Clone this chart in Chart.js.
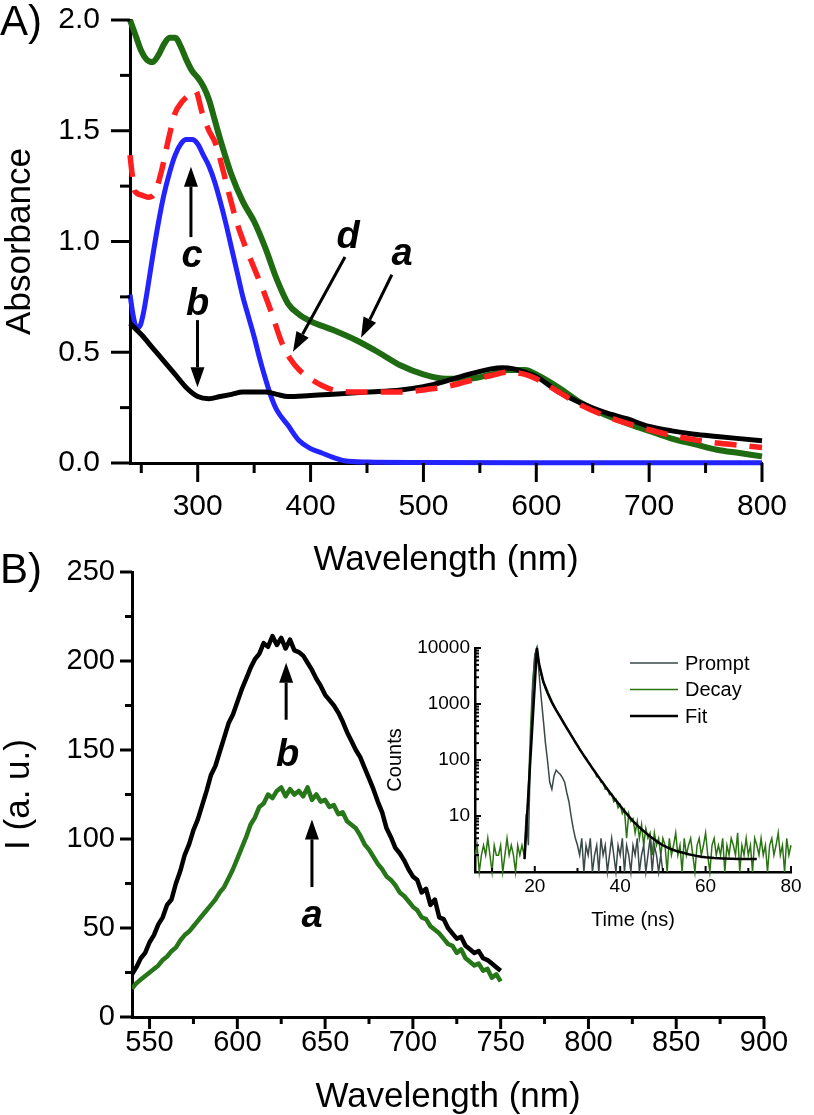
<html>
<head>
<script src="https://cdn.jsdelivr.net/npm/chart.js@4.4.3/dist/chart.umd.min.js"></script>
<style>
  body { margin: 0; background: #fff; }
  #page { position: relative; width: 814px; height: 1115px; overflow: hidden; font-family: "Liberation Sans", Arial, sans-serif; }
  canvas, .tag { position: absolute; }
  .tag { left: 0; font-size: 42px; line-height: 1; color: #000; }
</style>
</head>
<body>
<div id="page">
  <canvas id="chartA" width="814" height="590" style="left:0;top:0"></canvas>
  <canvas id="chartB" width="814" height="575" style="left:0;top:540px"></canvas>
  <canvas id="inset" width="444" height="300" style="left:370px;top:630px"></canvas>
  <div class="tag" style="top:0">A)</div>
  <div class="tag" style="top:548px">B)</div>
</div>
<script>
// ---- panel A: absorbance ----
wlA_a = [240,245,250,255,260,265,270,275,280,285,290,295,300,305,310,315,320,330,340,350,360,370,380,390,400,420,440,460,480,500,520,540,560,575,590,600,620,640,660,680,700,720,740,760,780,800];
absA_a = [2.0,1.93,1.86,1.82,1.81,1.84,1.89,1.92,1.92,1.88,1.82,1.77,1.74,1.70,1.64,1.55,1.46,1.30,1.18,1.09,0.97,0.83,0.72,0.67,0.64,0.60,0.555,0.50,0.44,0.40,0.38,0.38,0.40,0.42,0.42,0.40,0.34,0.27,0.22,0.18,0.145,0.11,0.085,0.06,0.045,0.03];
wlA_b = [240,250,260,270,280,290,300,310,320,330,340,350,360,370,380,400,420,450,480,500,520,540,560,570,580,590,600,620,640,660,680,700,720,740,760,780,800];
absA_b = [0.63,0.58,0.52,0.46,0.40,0.34,0.30,0.29,0.30,0.31,0.32,0.32,0.32,0.31,0.30,0.305,0.31,0.32,0.33,0.345,0.37,0.40,0.425,0.43,0.425,0.41,0.39,0.32,0.27,0.23,0.20,0.165,0.145,0.13,0.12,0.11,0.10];
wlA_c = [240,243,246,249,252,256,260,265,270,275,280,285,290,295,300,305,310,315,320,325,330,335,340,345,350,355,360,365,370,380,390,400,410,420,430,450,500,600,700,800];
absA_c = [0.76,0.66,0.61,0.62,0.68,0.80,0.93,1.08,1.21,1.31,1.39,1.44,1.46,1.46,1.44,1.39,1.34,1.27,1.18,1.08,0.97,0.86,0.75,0.66,0.57,0.47,0.38,0.30,0.24,0.17,0.10,0.065,0.045,0.025,0.01,0.004,0.002,0.001,0.001,0.001];
wlA_d = [240,242,244,250,256,262,268,274,280,286,292,298,304,310,316,322,328,335,342,350,358,366,374,382,390,400,410,420,440,460,480,500,520,540,560,575,590,600,620,640,660,680,700,720,740,760,780,800];
absA_d = [1.39,1.30,1.23,1.21,1.20,1.22,1.32,1.46,1.58,1.63,1.66,1.68,1.58,1.50,1.44,1.33,1.21,1.08,0.98,0.88,0.78,0.67,0.55,0.47,0.42,0.38,0.35,0.33,0.32,0.32,0.32,0.33,0.345,0.37,0.395,0.41,0.40,0.38,0.32,0.26,0.215,0.18,0.15,0.125,0.105,0.09,0.08,0.07];
xTicksA = [300,400,500,600,700,800];
yTicksA = [0,0.5,1.0,1.5,2.0];

// ---- panel B: emission ----
wlB = [540,542.5,545,547.5,550,552.5,555,557.5,560,562.5,565,567.5,570,572.5,575,577.5,580,582.5,585,587.5,590,592.5,595,597.5,600,602.5,605,607.5,610,612.5,615,617.5,620,622.5,625,627.5,630,632.5,635,637.5,640,642.5,645,647.5,650,652.5,655,657.5,660,662.5,665,667.5,670,672.5,675,677.5,680,682.5,685,687.5,690,692.5,695,697.5,700,702.5,705,707.5,710,712.5,715,717.5,720,722.5,725,727.5,730,732.5,735,737.5,740,742.5,745,747.5,750];
emB_a = [16,19,21,23,25,27,29,32,34,37,39,43,46,48,51,54,57,60,63,66,70,73,78,83,89,95,101,108,112,118,120,125,123,127,129,124,128,125,127,124,129,122,125,121,122,118,119,114,115,110,108,106,102,97,94,90,86,83,79,77,74,70,68,65,62,60,56,55,51,49,47,44,41,40,36,38,33,31,29,30,26,27,22,24,20];
emB_b = [24,28,33,36,42,46,52,56,63,66,75,82,91,97,105,111,119,127,136,141,149,157,165,170,177,184,190,196,201,204,210,208,214,209,213,207,212,206,205,203,199,195,190,186,181,178,175,171,166,160,155,150,146,140,134,128,121,115,106,101,95,92,88,83,79,77,70,72,63,66,56,55,50,47,44,45,40,38,36,37,33,32,30,28,26];
xTicksB = [550,600,650,700,750,800,850,900];
yTicksB = [0,50,100,150,200,250];

// ---- inset: decay ----
tDecay = [6,6.5,7,7.5,8,8.5,9,9.5,10,10.5,11,11.5,12,12.5,13,13.5,14,14.5,15,15.5,16,16.5,17,17.5,18,18.5,19,19.5,20,20.5,21,21.5,22,22.5,23,23.5,24,24.5,25,25.5,26,26.5,27,27.5,28,28.5,29,29.5,30,30.5,31,31.5,32,32.5,33,33.5,34,34.5,35,35.5,36,36.5,37,37.5,38,38.5,39,39.5,40,40.5,41,41.5,42,42.5,43,43.5,44,44.5,45,45.5,46,46.5,47,47.5,48,48.5,49,49.5,50,50.5,51,51.5,52,52.5,53,53.5,54,54.5,55,55.5,56,56.5,57,57.5,58,58.5,59,59.5,60,60.5,61,61.5,62,62.5,63,63.5,64,64.5,65,65.5,66,66.5,67,67.5,68,68.5,69,69.5,70,70.5,71,71.5,72,72.5,73,73.5,74,74.5,75,75.5,76,76.5,77,77.5,78,78.5,79,79.5,80];
decayCounts = [2,3,1,2,3,2,4,2,1,3,2,2,3,1,2,4,2,3,2,1,3,2,3,2,
  5,30,350,2400,7200,10000,5200,3300,2400,1850,1500,1230,1040,880,790,660,600,500,445,380,330,280,245,200,185,150,140,115,108,90,84,68,64,50,50,40,40,30,31,24,25,18,20,14,16,11,13,4,11,8,9,5,8,4,7,3,6,4,5,2,5,3,4,2,4,
  3,1,4,2,3,5,2,3,1,4,2,3,4,2,1,3,4,2,3,5,2,1,3,4,2,3,2,4,1,3,2,4,3,2,5,1,3,2,4,2,3,1,4,3,2,4,2,3,1,3,4,2,3,5,2,3,1,4,2,3];
tPrompt = [17.5,18,18.5,19,19.5,20,20.5,21,21.5,22,22.5,23,23.5,24,24.5,25,25.5,26,26.5,27,27.5,28,28.5,29,29.5,30,30.5,31,31.5,32,32.5,33,33.5,34,34.5,35,35.5,36,36.5,37,37.5,38,38.5,39,39.5,40,40.5,41,41.5,42,42.5,43,43.5,44,44.5,45,45.5,46,46.5,47,47.5,48,48.5,49,49.5,50];
promptCounts = [2,11,3,160,1800,7500,10000,3500,1300,520,200,95,40,30,52,66,60,55,48,40,26,18,10,6,4,3,
  2,4,1,3,2,4,1,2,3,1,4,2,3,1,2,4,2,1,3,2,4,1,3,2,1,3,2,4,1,2,3,1,2,4,1,3,2,1,2,1];
tFit = [17.6,20.5,21,22,23,24,25,26,27,28,29,30,31,32,33,34,35,36,37,38,39,40,41,42,43,44,45,46,47,48,49,50,51,52,53,54,55,56,57,58,59,60,62,64,66,68,70,72];
fitCounts = [1.7,10000,5200,2500,1600,1080,780,580,430,320,240,180,137,105,81,63,49,38.5,30,24,19,15.2,12.2,9.9,8.1,6.8,5.8,5.0,4.3,3.8,3.35,3.0,2.75,2.55,2.4,2.28,2.18,2.08,2.0,1.93,1.87,1.83,1.78,1.75,1.73,1.71,1.7,1.7];
xTicksIn = [20,40,60,80];
yTicksIn = [10,100,1000,10000];

fam = '"Liberation Sans", Arial, sans-serif';

function pts(xs, ys) { return xs.map((x, i) => ({x: x, y: ys[i]})); }
function between(ticks, lo, hi) {
  // minor ticks halfway between majors
  var step = ticks[1] - ticks[0], out = [];
  for (var v = ticks[0] - step / 2; v <= hi; v += step) if (v >= lo) out.push(v);
  return out;
}

// ticks drawn by hand so minor ones can be shorter
tickMarks = {
  id: 'tickMarks',
  afterDraw(chart, args, opts) {
    var ctx = chart.ctx;
    ctx.save();
    ctx.strokeStyle = '#000';
    ctx.lineWidth = opts.width;
    ['x', 'y'].forEach(function (id) {
      var s = chart.scales[id], c = opts[id];
      var marks = s.ticks.map(t => [t.value, c.major]).concat(c.minor.map(v => [v, c.minorLen]));
      marks.forEach(function (m) {
        var p = s.getPixelForValue(m[0]);
        var d = c.inward ? -m[1] : m[1];
        ctx.beginPath();
        if (s.isHorizontal()) { ctx.moveTo(p, s.top); ctx.lineTo(p, s.top + d); }
        else { ctx.moveTo(s.right, p); ctx.lineTo(s.right - d, p); }
        ctx.stroke();
      });
    });
    ctx.restore();
  }
};

callouts = {
  id: 'callouts',
  afterDatasetsDraw(chart, args, opts) {
    var ctx = chart.ctx, x = chart.scales.x, y = chart.scales.y;
    ctx.save();
    ctx.fillStyle = '#000';
    ctx.strokeStyle = '#000';
    ctx.lineWidth = 3;
    opts.arrows.forEach(function (a) {
      var x0 = x.getPixelForValue(a.from[0]), y0 = y.getPixelForValue(a.from[1]);
      var x1 = x.getPixelForValue(a.to[0]), y1 = y.getPixelForValue(a.to[1]);
      var ang = Math.atan2(y1 - y0, x1 - x0), hl = 20, hw = 7;
      var bx = x1 - hl * Math.cos(ang), by = y1 - hl * Math.sin(ang);
      ctx.beginPath(); ctx.moveTo(x0, y0); ctx.lineTo(bx, by); ctx.stroke();
      ctx.beginPath();
      ctx.moveTo(x1, y1);
      ctx.lineTo(bx + hw * Math.sin(ang), by - hw * Math.cos(ang));
      ctx.lineTo(bx - hw * Math.sin(ang), by + hw * Math.cos(ang));
      ctx.closePath(); ctx.fill();
    });
    ctx.font = 'italic bold 38px ' + fam;
    ctx.textAlign = 'center';
    ctx.textBaseline = 'alphabetic';
    opts.letters.forEach(function (l) {
      ctx.fillText(l.text, x.getPixelForValue(l.at[0]), y.getPixelForValue(l.at[1]));
    });
    ctx.restore();
  }
};

insetLegend = {
  id: 'insetLegend',
  afterDraw(chart, args, opts) {
    var ctx = chart.ctx, a = chart.chartArea;
    ctx.save();
    ctx.font = '20px ' + fam;
    ctx.fillStyle = '#000';
    ctx.textBaseline = 'middle';
    chart.data.datasets.forEach(function (ds, i) {
      var yy = a.top + opts.top + i * opts.gap;
      ctx.strokeStyle = ds.borderColor;
      ctx.lineWidth = ds.borderWidth;
      ctx.beginPath(); ctx.moveTo(a.left + opts.left, yy); ctx.lineTo(a.left + opts.left + 48, yy); ctx.stroke();
      ctx.fillText(ds.label, a.left + opts.left + 55, yy + 1);
    });
    ctx.restore();
  }
};

function axis(o) {
  return {
    type: o.type || 'linear', min: o.min, max: o.max,
    grid: {display: false, drawTicks: false},
    border: {display: true, width: o.bw || 3, color: '#000'},
    ticks: {color: '#000', padding: o.pad, font: {family: fam, size: o.fs, lineHeight: 1}, callback: o.fmt},
    afterBuildTicks: s => { s.ticks = o.ticks.map(v => ({value: v})); },
    afterFit: s => {
      // fixed box sizes so the plot area lands where the reference has it
      if (o.w) s.width = o.w;
      if (o.h) s.height = o.h;
      s.paddingTop = 0; s.paddingBottom = 0; s.paddingLeft = 0; s.paddingRight = 0;
    },
    title: {display: true, text: o.title, color: '#000', font: {family: fam, size: o.ts, lineHeight: 1}, padding: o.tpad}
  };
}

Chart.defaults.font.family = fam;

new Chart(document.getElementById('chartA'), {
  type: 'line',
  data: {
    datasets: [
      {label: 'd', data: pts(wlA_d, absA_d), borderColor: '#ff1f1f', borderWidth: 5.5, borderDash: [22, 13], order: 0},
      {label: 'b', data: pts(wlA_b, absA_b), borderColor: '#000', borderWidth: 5, order: 1},
      {label: 'c', data: pts(wlA_c, absA_c), borderColor: '#2323ff', borderWidth: 5, order: 2},
      {label: 'a', data: pts(wlA_a, absA_a), borderColor: '#1f6b12', borderWidth: 6, order: 3}
    ]
  },
  options: {
    responsive: false, animation: false,
    layout: {padding: {left: 0, top: 20, right: 52, bottom: 0}},
    elements: {point: {radius: 0}, line: {tension: 0.4, cubicInterpolationMode: 'monotone', fill: false}},
    datasets: {line: {clip: false}},
    plugins: {
      legend: {display: false}, tooltip: {enabled: false},
      tickMarks: {width: 3, x: {major: 19, minorLen: 10, minor: between(xTicksA, 240, 800)}, y: {major: 19, minorLen: 10, minor: between(yTicksA, 0, 2)}},
      callouts: {
        arrows: [
          {from: [294, 1.02], to: [294, 1.338]},
          {from: [299.8, 0.645], to: [299.8, 0.342]},
          {from: [430.5, 0.93], to: [384.4, 0.502]},
          {from: [472, 0.85], to: [444.7, 0.566]}
        ],
        letters: [
          {text: 'c', at: [294.9, 0.886]},
          {text: 'b', at: [299.8, 0.669]},
          {text: 'd', at: [433.2, 0.972]},
          {text: 'a', at: [481, 0.895]}
        ]
      }
    },
    scales: {
      x: axis({min: 240, max: 800, ticks: xTicksA, fs: 30, pad: 29, h: 127, fmt: v => String(v), title: 'Wavelength (nm)', ts: 35, tpad: {top: 0, bottom: 12}}),
      y: axis({min: 0, max: 2, ticks: yTicksA, fs: 30, pad: 30, w: 130, fmt: v => v.toFixed(1), title: 'Absorbance', ts: 35, tpad: {top: 2.5, bottom: 0}})
    }
  },
  plugins: [tickMarks, callouts]
});

new Chart(document.getElementById('chartB'), {
  type: 'line',
  data: {
    datasets: [
      {label: 'b', data: pts(wlB, emB_b), borderColor: '#000', borderWidth: 4.5},
      {label: 'a', data: pts(wlB, emB_a), borderColor: '#27761a', borderWidth: 4.5}
    ]
  },
  options: {
    responsive: false, animation: false,
    layout: {padding: {left: 0, top: 32, right: 50, bottom: 0}},
    elements: {point: {radius: 0}, line: {tension: 0, fill: false, borderJoinStyle: 'round'}},
    plugins: {
      legend: {display: false}, tooltip: {enabled: false},
      tickMarks: {width: 3, x: {major: 12, minorLen: 7, minor: between(xTicksB, 540, 900)}, y: {major: 12, minorLen: 7, minor: between(yTicksB, 0, 250)}},
      callouts: {
        arrows: [
          {from: [627.8, 167], to: [627.8, 199]},
          {from: [642.5, 73], to: [642.5, 111]}
        ],
        letters: [
          {text: 'b', at: [628.7, 140.8]},
          {text: 'a', at: [642.5, 50.3]}
        ]
      }
    },
    scales: {
      x: axis({min: 540, max: 900, ticks: xTicksB, fs: 29, pad: 11.5, h: 98, fmt: v => String(v), title: 'Wavelength (nm)', ts: 35, tpad: {top: 0, bottom: 0.5}}),
      y: axis({min: 0, max: 250, ticks: yTicksB, fs: 29, pad: 17, w: 132, fmt: v => String(v), title: 'I (a. u.)', ts: 35, tpad: {top: 1.5, bottom: 0}})
    }
  },
  plugins: [tickMarks, callouts]
});

logMinor = [];
[1, 10, 100, 1000].forEach(function (d) { for (var k = 2; k <= 9; k++) logMinor.push(k * d); });

new Chart(document.getElementById('inset'), {
  type: 'line',
  data: {
    datasets: [
      {label: 'Prompt', data: pts(tPrompt, promptCounts), borderColor: '#3b4848', borderWidth: 1.5, order: 1},
      {label: 'Decay', data: pts(tDecay, decayCounts), borderColor: '#2a7412', borderWidth: 1.5, order: 2},
      {label: 'Fit', data: pts(tFit, fitCounts), borderColor: '#000', borderWidth: 2.5, order: 0}
    ]
  },
  options: {
    responsive: false, animation: false,
    layout: {padding: {left: 0, top: 18, right: 23, bottom: 0}},
    elements: {point: {radius: 0}, line: {tension: 0, fill: false}},
    datasets: {line: {clip: false}},
    plugins: {
      legend: {display: false}, tooltip: {enabled: false},
      tickMarks: {width: 2, x: {major: 6, minorLen: 4, inward: true, minor: [10, 30, 50, 70]}, y: {major: 6, minorLen: 4, inward: true, minor: logMinor}},
      insetLegend: {left: 155, top: 15, gap: 26.5}
    },
    scales: {
      x: axis({min: 6, max: 80, ticks: xTicksIn, fs: 19, pad: 5, h: 58, bw: 2.5, fmt: v => String(v), title: 'Time (ns)', ts: 20, tpad: {top: 0, bottom: 0}}),
      y: axis({type: 'logarithmic', min: 1, max: 10000, ticks: yTicksIn, fs: 19, pad: 5, w: 105, bw: 2.5, fmt: v => String(v), title: 'Counts', ts: 20, tpad: {top: 15, bottom: 0}})
    }
  },
  plugins: [tickMarks, insetLegend]
});
</script>
</body>
</html>
